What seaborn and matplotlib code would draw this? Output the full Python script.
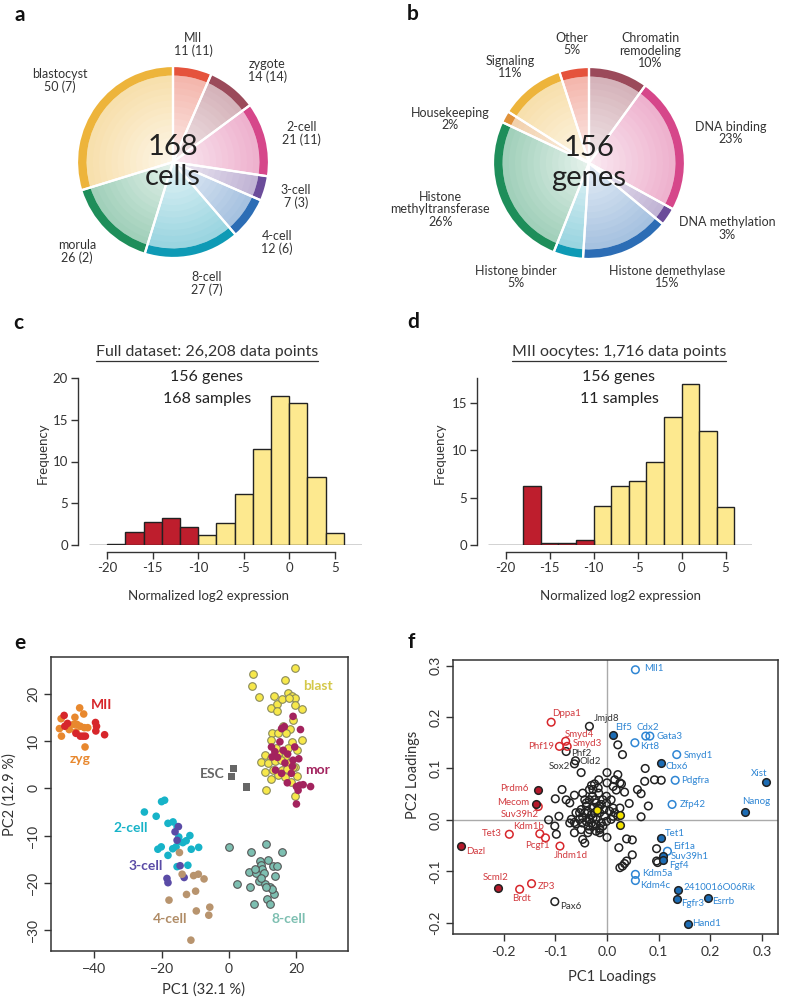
import numpy as np
import pandas as pd
import matplotlib
matplotlib.use("Agg")
import matplotlib.pyplot as plt
from matplotlib.colors import to_rgb
from matplotlib.lines import Line2D
import seaborn as sns

# ---------------- data: panel a (cells per stage) ----------------
stage_names = ["MII", "zygote", "2-cell", "3-cell", "4-cell", "8-cell", "morula", "blastocyst"]
stage_cells = [11, 14, 21, 7, 12, 27, 26, 50]
stage_embryos = [11, 14, 11, 3, 6, 7, 2, 7]
stage_colors = ["#E5533C", "#9B4A5A", "#D6478A", "#6B4C9A", "#2C6DB5", "#0E9AB5", "#1E8E5A", "#EDB43B"]

# ---------------- data: panel b (gene categories) ----------------
cat_names = ["Chromatin\nremodeling", "DNA binding", "DNA methylation", "Histone demethylase",
             "Histone binder", "Histone\nmethyltransferase", "Housekeeping", "Signaling", "Other"]
cat_pct = [10, 23, 3, 15, 5, 26, 2, 11, 5]
cat_colors = ["#9B4A5A", "#D6478A", "#6B4C9A", "#2C6DB5", "#0E9AB5", "#1E8E5A", "#E0913A", "#EDB43B", "#E5533C"]

# ---------------- data: panels c, d (histograms) ----------------
bin_edges = [-22, -20, -18, -16, -14, -12, -10, -8, -6, -4, -2, 0, 2, 4, 6, 8]
full_freq = [0, 0.08, 1.5, 2.7, 3.2, 2.1, 1.2, 2.6, 6.1, 11.5, 17.9, 17.0, 8.2, 1.4, 0]
mii_freq = [0, 0, 6.25, 0.18, 0.18, 0.53, 4.15, 6.25, 6.7, 8.8, 13.5, 17.0, 12.0, 4.0, 0]

# ---------------- data: panel e (PCA of cells) ----------------
mii_pc1 = [-48.9, -48.7, -39.6, -39.3, -39.5, -43.3, -42.6, -44.1, -36.9, -45.4, -47.9]
mii_pc2 = [15.5, 13.2, 14.0, 13.2, 12.2, 11.1, 11.1, 11.1, 11.4, 11.7, 13.8]
zyg_pc1 = [-44.3, -43.1, -49.8, -45.7, -46.1, -47.4, -50.3, -49.7, -45.4, -44.1, -42.9, -41.9, -42.7, -45.1]
zyg_pc2 = [17.1, 15.8, 14.8, 15.1, 13.6, 12.5, 12.7, 11.1, 12.0, 13.2, 12.9, 12.9, 8.8, 13.6]
c2_pc1 = [-20.0, -19.1, -25.1, -21.6, -18.1, -16.6, -15.4, -21.1, -20.1, -14.9, -14.7, -18.1, -16.7,
          -11.6, -11.2, -9.0, -15.4, -12.2, -12.7, -15.7, -13.7]
c2_pc2 = [-2.8, -2.5, -5.0, -5.9, -7.4, -7.1, -8.1, -12.9, -12.4, -10.3, -11.2, -14.2, -12.8,
          -10.0, -12.9, -12.5, -16.6, -16.3, -11.1, -12.4, -11.5]
c3_pc1 = [-15.0, -16.0, -15.4, -14.5, -18.4, -18.1, -13.3]
c3_pc2 = [-8.1, -9.2, -11.0, -16.4, -19.1, -20.0, -18.9]
c4_pc1 = [-14.7, -13.9, -10.5, -9.1, -7.4, -17.8, -12.6, -9.9, -9.7, -5.7, -6.0, -11.3]
c4_pc2 = [-13.6, -18.2, -18.5, -18.2, -19.2, -23.7, -22.5, -21.8, -26.0, -25.2, -26.9, -32.2]
c8_pc1 = [0.1, 6.6, 10.9, 15.6, 5.9, 9.1, 9.5, 9.7, 11.6, 13.1, 14.3, 13.6, 2.3, 6.2, 8.8, 10.8,
          12.1, 13.4, 7.3, 11.3, 12.2, 8.1, 7.6, 10.4, 9.6, 12.8, 10.9]
c8_pc2 = [-12.4, -13.4, -11.7, -13.5, -17.8, -15.3, -16.3, -17.2, -15.2, -16.4, -16.4, -18.6, -20.3,
          -20.9, -19.6, -20.3, -21.0, -22.3, -24.6, -23.5, -24.5, -17.9, -17.0, -18.0, -19.1, -21.3, -20.9]
esc_pc1 = [1.2, 0.7, 5.2]
esc_pc2 = [4.2, 2.6, 0.3]
blast_pc1 = [7.1, 6.8, 19.5, 16.7, 8.8, 12.6, 13.4, 14.2, 15.6, 17.4, 18.8, 19.7, 17.8, 19.7, 21.8,
             14.3, 19.0, 16.1, 18.2, 12.8, 14.6, 16.8, 12.6, 18.8, 21.7, 20.2, 17.6, 10.8, 12.6, 14.6,
             16.6, 9.4, 11.6, 13.6, 15.4, 17.8, 19.5, 10.6, 13.1, 15.6, 17.1, 19.0, 12.6, 14.6, 16.6,
             20.3, 11.1, 19.5, 18.5, 13.8]
blast_pc2 = [24.3, 21.7, 25.6, 23.1, 19.4, 17.1, 19.7, 17.9, 19.0, 20.2, 19.7, 19.2, 19.3, 17.7, 16.8,
             16.4, 14.5, 13.2, 12.7, 11.8, 11.8, 11.7, 10.3, 9.9, 10.3, 8.1, 8.5, 7.1, 6.4, 7.4,
             6.7, 5.7, 5.3, 5.8, 6.0, 5.3, 4.6, 3.5, 3.9, 4.0, 4.2, 4.5, 2.1, 2.8, 2.5,
             2.6, -0.4, -1.6, 1.4, 8.5]
mor_pc1 = [19.0, 21.2, 16.4, 15.6, 12.6, 15.1, 13.6, 16.1, 17.4, 12.8, 14.4, 19.5, 20.7, 19.0,
           16.6, 18.5, 13.8, 17.3, 20.0, 21.0, 22.0, 24.2, 20.5, 20.0, 18.8, 15.6]
mor_pc2 = [15.3, 12.5, 13.1, 12.7, 8.8, 9.9, 7.8, 8.1, 7.3, 6.7, 6.6, 8.8, 6.3, 6.0,
           5.4, 3.2, 3.9, 1.2, 0.4, 0.7, 0.8, 0.4, -0.4, -3.3, 4.7, 3.2]

# ---------------- data: panel f (PCA loadings of genes) ----------------
red_open_genes = ["Dppa1", "Smyd4", "Smyd3", "Phf19", "Suv39h2", "Kdm1b", "Tet3", "Pcgf1", "Jhdm1d", "ZP3", "Brdt"]
red_open_pc1 = [-0.108, -0.080, -0.077, -0.092, -0.133, -0.130, -0.189, -0.119, -0.091, -0.146, -0.169]
red_open_pc2 = [0.190, 0.153, 0.143, 0.143, 0.026, -0.027, -0.028, -0.035, -0.051, -0.124, -0.135]
red_fill_genes = ["Prdm6", "Mecom", "Dazl", "Scml2"]
red_fill_pc1 = [-0.133, -0.138, -0.283, -0.210]
red_fill_pc2 = [0.059, 0.030, -0.050, -0.132]
blue_open_genes = ["Mll1", "Cdx2", "Gata3", "Krt8", "Smyd1", "Pdgfra", "Zfp42", "Eif1a", "Kdm5a", "Kdm4c"]
blue_open_pc1 = [0.055, 0.075, 0.083, 0.054, 0.135, 0.132, 0.126, 0.117, 0.055, 0.055]
blue_open_pc2 = [0.292, 0.163, 0.163, 0.150, 0.127, 0.077, 0.030, -0.061, -0.106, -0.118]
blue_fill_genes = ["Elf5", "Cbx6", "Xist", "Nanog", "Tet1", "Suv39h1", "Fgf4", "2410016O06Rik", "Esrrb", "Fgfr3", "Hand1"]
blue_fill_pc1 = [0.012, 0.104, 0.307, 0.268, 0.105, 0.109, 0.109, 0.138, 0.195, 0.135, 0.156]
blue_fill_pc2 = [0.166, 0.111, 0.073, 0.016, -0.036, -0.071, -0.078, -0.136, -0.151, -0.154, -0.203]
black_named_genes = ["Jmjd8", "Phf2", "Old2", "Sox2", "Pax6"]
black_named_pc1 = [-0.034, -0.079, -0.061, -0.063, -0.101]
black_named_pc2 = [0.182, 0.133, 0.115, 0.109, -0.159]
yellow_pc1 = [-0.019, 0.026, 0.026]
yellow_pc2 = [0.019, 0.010, -0.009]
other_pc1 = [0.021, 0.030, 0.000, 0.021, 0.015, 0.025, 0.028, 0.034, 0.059, 0.066, 0.074, 0.073, 0.092,
             0.105, 0.080, 0.066, 0.043, 0.018, 0.000, 0.012, -0.050, -0.087, -0.100, -0.063, -0.072,
             -0.047, -0.030, -0.016, -0.024, -0.034, -0.028, -0.016, -0.008, -0.001, 0.008, 0.012, 0.025,
             -0.006, -0.021, -0.040, -0.050, -0.053, -0.113, -0.101, -0.093, -0.098, -0.063, -0.047, -0.043,
             -0.037, -0.060, -0.072, -0.069, -0.050, -0.027, -0.014, -0.034, -0.021, 0.000, 0.023, 0.038,
             0.049, 0.049, 0.038, 0.034, 0.030, 0.025, 0.096, 0.098, 0.096, -0.043, -0.037, -0.030, -0.024,
             -0.014, 0.005, 0.015, 0.021, -0.047, -0.040, -0.030, -0.021, -0.011, -0.001, 0.008, -0.040,
             -0.027, -0.017, -0.014, -0.034, -0.024, -0.053, -0.063, -0.014, -0.008, -0.034, -0.021, -0.043,
             -0.001, -0.011, -0.005, -0.027, -0.048, -0.014, 0.012, -0.036, -0.060, -0.079, -0.027, -0.017]
other_pc2 = [0.146, 0.127, 0.092, 0.088, 0.078, 0.072, 0.070, 0.054, 0.059, 0.051, 0.100, 0.075, 0.078,
             0.077, 0.027, 0.006, 0.032, 0.058, 0.072, 0.065, 0.092, 0.059, 0.041, 0.048, 0.033,
             0.052, 0.067, 0.078, 0.070, 0.059, 0.046, 0.052, 0.039, 0.046, 0.039, 0.023, 0.023,
             0.020, 0.033, 0.033, 0.020, 0.014, 0.000, -0.012, 0.007, -0.028, -0.025, -0.038, -0.045,
             -0.025, -0.008, -0.006, 0.001, -0.019, -0.012, -0.016, 0.001, 0.001, -0.034, -0.054, -0.037,
             -0.039, -0.068, -0.080, -0.085, -0.090, -0.093, -0.056, -0.083, -0.080, 0.014, 0.017, 0.010, 0.014,
             0.014, 0.017, 0.014, 0.007, 0.004, -0.003, -0.006, -0.009, -0.006, -0.003, 0.001, 0.027,
             0.023, 0.023, 0.027, 0.039, 0.039, 0.001, -0.005, -0.019, -0.012, -0.019, -0.022, 0.039,
             0.033, 0.030, 0.008, 0.004, -0.006, -0.025, 0.007, -0.012, 0.014, 0.039, 0.059, 0.062]

# text placement for gene labels (x, y, alignment)
gene_label_pos = {
    "Mll1": (0.072, 0.294, "left"), "Dppa1": (-0.106, 0.206, "left"), "Jmjd8": (-0.025, 0.197, "left"),
    "Elf5": (0.015, 0.179, "left"), "Cdx2": (0.058, 0.179, "left"), "Gata3": (0.096, 0.162, "left"),
    "Krt8": (0.065, 0.142, "left"), "Smyd4": (-0.081, 0.166, "left"), "Smyd3": (-0.066, 0.148, "left"),
    "Phf19": (-0.102, 0.143, "right"), "Phf2": (-0.069, 0.130, "left"), "Old2": (-0.054, 0.113, "left"),
    "Sox2": (-0.071, 0.103, "right"), "Smyd1": (0.149, 0.125, "left"), "Cbx6": (0.113, 0.103, "left"),
    "Pdgfra": (0.144, 0.076, "left"), "Xist": (0.295, 0.091, "center"), "Prdm6": (-0.151, 0.062, "right"),
    "Mecom": (-0.150, 0.034, "right"), "Suv39h2": (-0.131, 0.010, "right"), "Nanog": (0.288, 0.036, "center"),
    "Zfp42": (0.141, 0.030, "left"), "Kdm1b": (-0.122, -0.012, "right"), "Tet3": (-0.203, -0.026, "right"),
    "Tet1": (0.113, -0.027, "left"), "Pcgf1": (-0.111, -0.050, "right"), "Dazl": (-0.273, -0.062, "left"),
    "Eif1a": (0.128, -0.051, "left"), "Jhdm1d": (-0.103, -0.069, "left"), "Suv39h1": (0.124, -0.071, "left"),
    "Fgf4": (0.120, -0.089, "left"), "Kdm5a": (0.068, -0.104, "left"), "Kdm4c": (0.065, -0.127, "left"),
    "Scml2": (-0.191, -0.113, "right"), "ZP3": (-0.134, -0.129, "left"),
    "2410016O06Rik": (0.149, -0.131, "left"), "Brdt": (-0.166, -0.153, "center"),
    "Esrrb": (0.204, -0.159, "left"), "Fgfr3": (0.144, -0.162, "left"), "Pax6": (-0.091, -0.168, "left"),
    "Hand1": (0.165, -0.201, "left"),
}

# ---------------- style ----------------
sns.set_theme(style="ticks")
plt.rcParams["font.family"] = ["Lato", "DejaVu Sans"]
plt.rcParams["axes.edgecolor"] = "#333333"
plt.rcParams["xtick.color"] = "#333333"
plt.rcParams["ytick.color"] = "#333333"
TXT = "#333333"

W, H = 787, 1000
fig = plt.figure(figsize=(W / 100, H / 100), dpi=100)


def px_box(left, top, right, bottom):
    return [left / W, 1 - bottom / H, (right - left) / W, (bottom - top) / H]


def fig_text(x, y, s, **kw):
    return fig.text(x / W, 1 - y / H, s, **kw)


def blend(c, a):
    r = np.array(to_rgb(c))
    return tuple(r * a + (1 - a))


def donut(ax, values, colors, centre, labels, label_pos):
    n = 14
    for k in range(n - 1, -1, -1):
        a = 0.12 + 0.30 * k / (n - 1)
        ax.pie(values, radius=0.9 * (k + 1) / n, colors=[blend(c, a) for c in colors],
               startangle=90, counterclock=False, wedgeprops=dict(linewidth=0))
    ax.pie(values, radius=1.0, colors=colors, startangle=90, counterclock=False,
           wedgeprops=dict(width=0.1, linewidth=0))
    ax.pie(values, radius=1.0, startangle=90, counterclock=False,
           wedgeprops=dict(fill=False, edgecolor="white", linewidth=1.6))
    lim = 110 / 96
    ax.set_xlim(-lim, lim)
    ax.set_ylim(-lim, lim)
    ax.set_aspect("equal")
    ax.axis("off")
    ax.text(0, 0, centre, ha="center", va="center", fontsize=21, color="#222222", linespacing=1.15)
    for lab, (lx, ly) in zip(labels, label_pos):
        ax.text(lx, ly, lab, ha="center", va="center", fontsize=9, color=TXT, linespacing=1.05)


# ---------------- a ----------------
ax_a = fig.add_axes(px_box(63, 52, 283, 272))
a_labels = [f"{n}\n{c} ({e})" for n, c, e in zip(stage_names, stage_cells, stage_embryos)]
a_pos = [(0.21, 1.22), (0.98, 0.95), (1.34, 0.30), (1.28, -0.36), (1.08, -0.84),
         (0.35, -1.27), (-1.00, -0.93), (-1.18, 0.85)]
donut(ax_a, stage_cells, stage_colors, "168\ncells", a_labels, a_pos)

# ---------------- b ----------------
ax_b = fig.add_axes(px_box(479, 53, 699, 273))
b_labels = [f"{n}\n{p}%" for n, p in zip(cat_names, cat_pct)]
b_pos = [(0.64, 1.17), (1.48, 0.31), (1.44, -0.68), (0.81, -1.19), (-0.76, -1.19),
         (-1.55, -0.48), (-1.45, 0.46), (-0.82, 1.00), (-0.18, 1.24)]
donut(ax_b, cat_pct, cat_colors, "156\ngenes", b_labels, b_pos)

# ---------------- c, d ----------------
hist_red = "#BE1E2D"
hist_yel = "#FDE98F"
centers = [(lo + hi) / 2 for lo, hi in zip(bin_edges[:-1], bin_edges[1:])]
is_low = [(lo >= -18) and (lo < -10) for lo in bin_edges[:-1]]


def hist_panel(ax, freq, ytop, yticks):
    yel_w = [0 if m else f for f, m in zip(freq, is_low)]
    red_c = [c for c, m in zip(centers, is_low) if m]
    red_w = [f for f, m in zip(freq, is_low) if m]
    sns.histplot(x=centers, weights=yel_w, bins=bin_edges, color=hist_yel, alpha=1,
                 edgecolor="#222222", linewidth=1.0, ax=ax)
    sns.histplot(x=red_c, weights=red_w, bins=[-18, -16, -14, -12, -10], color=hist_red, alpha=1,
                 edgecolor="#222222", linewidth=1.0, ax=ax)
    ax.set_xlim(-22, 8)
    ax.set_ylim(0, ytop)
    ax.set_xlabel("")
    ax.set_ylabel("")
    sns.despine(ax=ax, offset={"left": 8, "bottom": 5})
    ax.spines["left"].set_bounds(0, ytop)
    ax.spines["bottom"].set_bounds(-20, 5)
    ax.set_xticks([-20, -15, -10, -5, 0, 5])
    ax.set_xticklabels(["-20", "-15", "-10", "-5", "0", "5"])
    ax.set_yticks(yticks)
    ax.tick_params(labelsize=9.5, length=5, width=1, pad=2)
    for s in ("left", "bottom"):
        ax.spines[s].set_linewidth(1.0)


ax_c = fig.add_axes(px_box(89, 378, 362, 545))
hist_panel(ax_c, full_freq, 20, [0, 5, 10, 15, 20])
ax_d = fig.add_axes(px_box(488, 378, 752, 545))
hist_panel(ax_d, mii_freq, 17.6, [0, 5, 10, 15])

titles = []
for cx, t, g, s in [(207, "Full dataset: 26,208 data points", "156 genes", "168 samples"),
                    (619, "MII oocytes: 1,716 data points", "156 genes", "11 samples")]:
    titles.append(fig_text(cx, 352, t, ha="center", va="center", fontsize=11.5, color=TXT))
    fig_text(cx, 377, g, ha="center", va="center", fontsize=11.5, color="#222222")
    fig_text(cx, 399, s, ha="center", va="center", fontsize=11.5, color="#222222")
    fig_text(cx + 2, 596, "Normalized log2 expression", ha="center", va="center", fontsize=9.5, color=TXT)
fig_text(43, 453, "Frequency", ha="center", va="center", rotation=90, fontsize=9.5, color=TXT)
fig_text(440, 453, "Frequency", ha="center", va="center", rotation=90, fontsize=9.5, color=TXT)

# ---------------- e ----------------
groups_e = [
    ("zyg", zyg_pc1, zyg_pc2, "#E8882E", "none", "o"),
    ("MII", mii_pc1, mii_pc2, "#D7262B", "none", "o"),
    ("2-cell", c2_pc1, c2_pc2, "#17B3C8", "none", "o"),
    ("3-cell", c3_pc1, c3_pc2, "#5A4BA6", "none", "o"),
    ("4-cell", c4_pc1, c4_pc2, "#B8946E", "none", "o"),
    ("8-cell", c8_pc1, c8_pc2, "#7DBFB1", "#555555", "o"),
    ("ESC", esc_pc1, esc_pc2, "#666666", "none", "s"),
    ("blast", blast_pc1, blast_pc2, "#F7E84A", "#8A8A5A", "o"),
    ("mor", mor_pc1, mor_pc2, "#A3235E", "none", "o"),
]
df_e = pd.concat([pd.DataFrame({"pc1": x, "pc2": y, "stage": n}) for n, x, y, *_ in groups_e])

ax_e = fig.add_axes(px_box(51, 657, 348, 951))
for name, _, _, col, ec, mk in groups_e:
    sub = df_e[df_e["stage"] == name]
    sns.scatterplot(data=sub, x="pc1", y="pc2", color=col, edgecolor=ec, linewidth=0.8,
                    marker=mk, s=30 if mk == "o" else 26, ax=ax_e, legend=False, zorder=3)
e_labels = [("MII", -37.7, 17.7, "#D7262B"), ("zyg", -44.3, 6.2, "#E8882E"),
            ("blast", 26.5, 21.7, "#D4C84A"), ("mor", 26.3, 4.0, "#A3235E"),
            ("ESC", -5.1, 3.0, "#666666"), ("2-cell", -29.1, -8.3, "#17B3C8"),
            ("3-cell", -24.6, -16.5, "#5A4BA6"), ("4-cell", -17.4, -27.8, "#B08C66"),
            ("8-cell", 17.8, -27.8, "#7DBFB1")]
for t, x, y, c in e_labels:
    ax_e.text(x, y, t, ha="center", va="center", fontsize=10, fontweight="bold", color=c)
ax_e.set_xlim(-52.8, 35.3)
ax_e.set_ylim(-34.5, 27.9)
ax_e.set_xticks([-40, -20, 0, 20])
ax_e.set_yticks([-30, -20, -10, 0, 10, 20])
ax_e.tick_params(labelsize=10, length=5, width=1)
plt.setp(ax_e.get_yticklabels(), rotation=90, va="center")
ax_e.set_xlabel("")
ax_e.set_ylabel("")
for s in ax_e.spines.values():
    s.set_linewidth(1.1)
fig_text(203, 990, "PC1 (32.1 %)", ha="center", va="center", fontsize=10.5, color=TXT)
fig_text(10, 795, "PC2 (12.9 %)", ha="center", va="center", rotation=90, fontsize=10.5, color=TXT)

# ---------------- f ----------------
ax_f = fig.add_axes(px_box(453, 660, 778, 934))
ax_f.axhline(0, color="#AAAAAA", lw=1, zorder=1)
ax_f.axvline(0, color="#AAAAAA", lw=1, zorder=1)
red_txt, blue_txt = "#D23A3F", "#2F86D4"
groups_f = [
    (other_pc1, other_pc2, "none", "#222222", None),
    (black_named_pc1, black_named_pc2, "none", "#222222", black_named_genes),
    (yellow_pc1, yellow_pc2, "#F2E200", "#222222", None),
    (red_open_pc1, red_open_pc2, "none", "#D7262B", red_open_genes),
    (red_fill_pc1, red_fill_pc2, "#B5192B", "#222222", red_fill_genes),
    (blue_open_pc1, blue_open_pc2, "none", "#2F86D4", blue_open_genes),
    (blue_fill_pc1, blue_fill_pc2, "#1C6CB4", "#222222", blue_fill_genes),
]
for x, y, fc, ec, genes in groups_f:
    sns.scatterplot(x=x, y=y, facecolor=fc, edgecolor=ec, linewidth=1.1, s=30,
                    ax=ax_f, legend=False, zorder=3)
    if genes is None:
        continue
    tc = TXT if ec == "#222222" and fc == "none" else (red_txt if ("D7262B" in ec or fc == "#B5192B") else blue_txt)
    for g in genes:
        tx, ty, ha = gene_label_pos[g]
        ax_f.text(tx, ty, g, ha=ha, va="center", fontsize=7, color=tc, zorder=4)
ax_f.set_xlim(-0.298, 0.331)
ax_f.set_ylim(-0.222, 0.311)
ax_f.set_xticks([-0.2, -0.1, 0.0, 0.1, 0.2, 0.3])
ax_f.set_yticks([-0.2, -0.1, 0.0, 0.1, 0.2, 0.3])
ax_f.set_xticklabels(["-0.2", "-0.1", "0.0", "0.1", "0.2", "0.3"])
ax_f.set_yticklabels(["-0.2", "-0.1", "0.0", "0.1", "0.2", "0.3"])
ax_f.tick_params(labelsize=10, length=5, width=1)
plt.setp(ax_f.get_yticklabels(), rotation=90, va="center")
ax_f.set_xlabel("")
ax_f.set_ylabel("")
for s in ax_f.spines.values():
    s.set_linewidth(1.1)
fig_text(612, 977, "PC1 Loadings", ha="center", va="center", fontsize=10.5, color=TXT)
fig_text(413, 775, "PC2 Loadings", ha="center", va="center", rotation=90, fontsize=10.5, color=TXT)

# ---------------- panel letters ----------------
for letter, x, y in [("a", 20, 15), ("b", 413, 14), ("c", 18, 323), ("d", 413, 322),
                     ("e", 20, 643), ("f", 411, 642)]:
    fig_text(x, y, letter, ha="center", va="center", fontsize=15, fontweight="bold", color="#111111")

# underline the histogram titles
fig.canvas.draw()
renderer = fig.canvas.get_renderer()
for t in titles:
    bb = t.get_window_extent(renderer=renderer)
    y0 = (bb.y0 - 1.5) / fig.bbox.height
    fig.add_artist(Line2D([bb.x0 / fig.bbox.width, bb.x1 / fig.bbox.width], [y0, y0],
                          color=TXT, lw=0.9, transform=fig.transFigure))

fig.savefig("out.png", dpi=100)
